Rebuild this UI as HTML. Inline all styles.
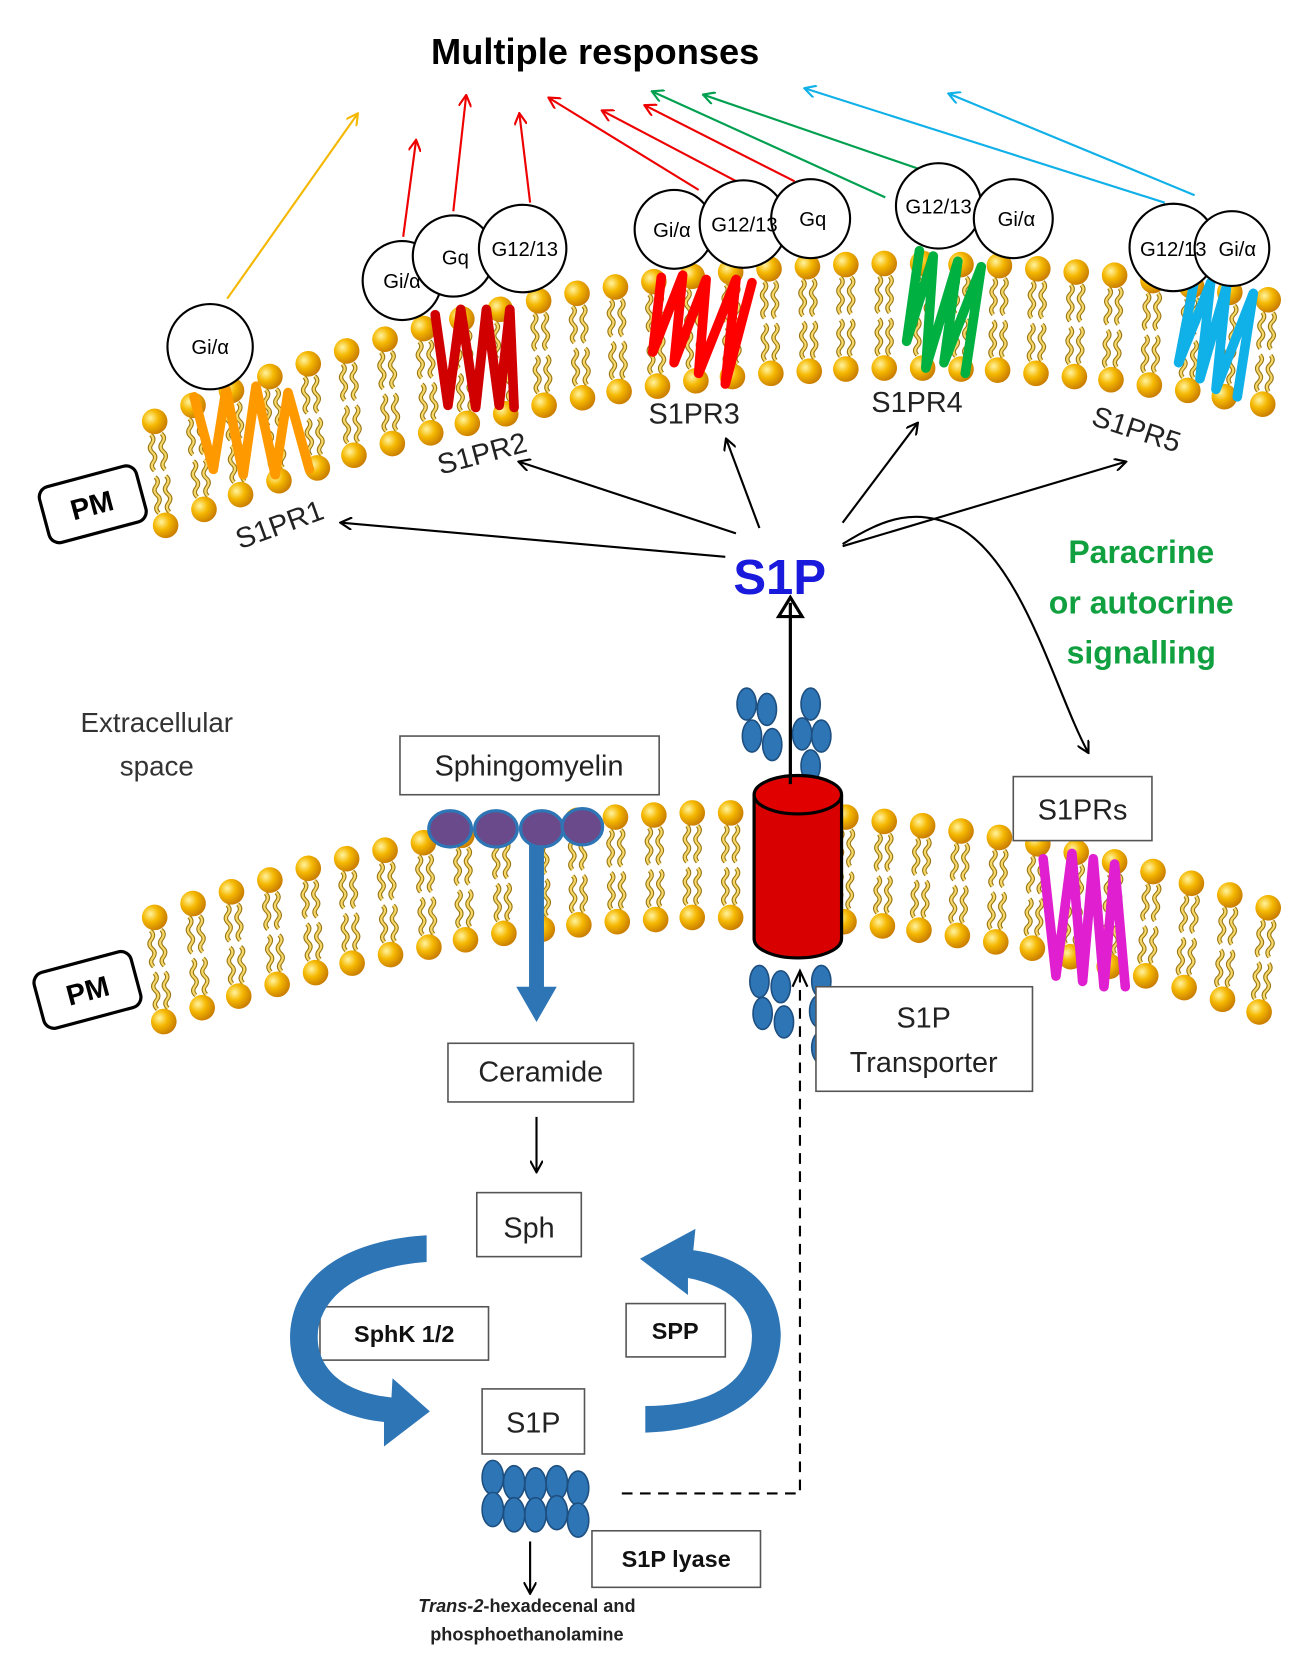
<!DOCTYPE html>
<html><head><meta charset="utf-8">
<style>
html,body{margin:0;padding:0;background:#fff;}
svg{display:block;}
text{font-family:"Liberation Sans","DejaVu Sans",sans-serif;}
</style></head>
<body>
<svg width="1297" height="1662" viewBox="0 0 1216 1558" preserveAspectRatio="none" xmlns="http://www.w3.org/2000/svg" xmlns:xlink="http://www.w3.org/1999/xlink">
<defs>
<radialGradient id="hg" cx="0.35" cy="0.35" r="0.7">
<stop offset="0" stop-color="#fff3a0"/><stop offset="0.45" stop-color="#f5b800"/><stop offset="1" stop-color="#c77a00"/>
</radialGradient>
<g id="T"><path d="M0,0 q4,4 0,8.5 q-4,4 0,8.5 q4,4 0,8.5 q-4,4 0,8.5" fill="none" stroke="#9a7410" stroke-width="4"/><path d="M0,0 q4,4 0,8.5 q-4,4 0,8.5 q4,4 0,8.5 q-4,4 0,8.5" fill="none" stroke="#f4d86a" stroke-width="2"/></g>
<g id="L">
<use xlink:href="#T" href="#T" x="-5" y="12"/><use xlink:href="#T" href="#T" x="5" y="12"/>
<use xlink:href="#T" href="#T" x="-5" y="52"/><use xlink:href="#T" href="#T" x="5" y="52"/>
<circle cx="0" cy="0" r="12" fill="url(#hg)"/><circle cx="0" cy="98" r="12" fill="url(#hg)"/>
</g>
<marker id="ab" markerWidth="12" markerHeight="12" refX="10" refY="6" orient="auto" markerUnits="userSpaceOnUse"><path d="M0,0 L11,6 L0,12" fill="none" stroke="#000" stroke-width="2"/></marker>
<marker id="ar" markerWidth="12" markerHeight="12" refX="10" refY="6" orient="auto" markerUnits="userSpaceOnUse"><path d="M0,0 L11,6 L0,12" fill="none" stroke="#e00" stroke-width="2"/></marker>
<marker id="ag" markerWidth="12" markerHeight="12" refX="10" refY="6" orient="auto" markerUnits="userSpaceOnUse"><path d="M0,0 L11,6 L0,12" fill="none" stroke="#00a050" stroke-width="2"/></marker>
<marker id="ac" markerWidth="12" markerHeight="12" refX="10" refY="6" orient="auto" markerUnits="userSpaceOnUse"><path d="M0,0 L11,6 L0,12" fill="none" stroke="#10b0e8" stroke-width="2"/></marker>
<marker id="ay" markerWidth="12" markerHeight="12" refX="10" refY="6" orient="auto" markerUnits="userSpaceOnUse"><path d="M0,0 L11,6 L0,12" fill="none" stroke="#f5b800" stroke-width="2"/></marker>
</defs>

<!-- upper membrane -->
<g>
<use href="#L" xlink:href="#L" transform="translate(145,395) rotate(-6)"/>
<use href="#L" xlink:href="#L" transform="translate(181,380) rotate(-6)"/>
<use href="#L" xlink:href="#L" transform="translate(217,366) rotate(-5)"/>
<use href="#L" xlink:href="#L" transform="translate(253,353) rotate(-5)"/>
<use href="#L" xlink:href="#L" transform="translate(289,341) rotate(-5)"/>
<use href="#L" xlink:href="#L" transform="translate(325,329) rotate(-4)"/>
<use href="#L" xlink:href="#L" transform="translate(361,318) rotate(-4)"/>
<use href="#L" xlink:href="#L" transform="translate(397,308) rotate(-4)"/>
<use href="#L" xlink:href="#L" transform="translate(433,299) rotate(-3)"/>
<use href="#L" xlink:href="#L" transform="translate(469,290) rotate(-3)"/>
<use href="#L" xlink:href="#L" transform="translate(505,282) rotate(-3)"/>
<use href="#L" xlink:href="#L" transform="translate(541,275) rotate(-3)"/>
<use href="#L" xlink:href="#L" transform="translate(577,269) rotate(-2)"/>
<use href="#L" xlink:href="#L" transform="translate(613,264) rotate(-2)"/>
<use href="#L" xlink:href="#L" transform="translate(649,259) rotate(-2)"/>
<use href="#L" xlink:href="#L" transform="translate(685,255) rotate(-1)"/>
<use href="#L" xlink:href="#L" transform="translate(721,252) rotate(-1)"/>
<use href="#L" xlink:href="#L" transform="translate(757,250) rotate(-1)"/>
<use href="#L" xlink:href="#L" transform="translate(793,248) rotate(0)"/>
<use href="#L" xlink:href="#L" transform="translate(829,247) rotate(0)"/>
<use href="#L" xlink:href="#L" transform="translate(865,247) rotate(0)"/>
<use href="#L" xlink:href="#L" transform="translate(901,248) rotate(0)"/>
<use href="#L" xlink:href="#L" transform="translate(937,249) rotate(1)"/>
<use href="#L" xlink:href="#L" transform="translate(973,252) rotate(1)"/>
<use href="#L" xlink:href="#L" transform="translate(1009,255) rotate(1)"/>
<use href="#L" xlink:href="#L" transform="translate(1045,258) rotate(2)"/>
<use href="#L" xlink:href="#L" transform="translate(1081,263) rotate(2)"/>
<use href="#L" xlink:href="#L" transform="translate(1117,268) rotate(2)"/>
<use href="#L" xlink:href="#L" transform="translate(1153,274) rotate(3)"/>
<use href="#L" xlink:href="#L" transform="translate(1189,281) rotate(3)"/>
</g>
<!-- lower membrane -->
<g>
<use href="#L" xlink:href="#L" transform="translate(145,860) rotate(-5)"/>
<use href="#L" xlink:href="#L" transform="translate(181,847) rotate(-5)"/>
<use href="#L" xlink:href="#L" transform="translate(217,836) rotate(-4)"/>
<use href="#L" xlink:href="#L" transform="translate(253,825) rotate(-4)"/>
<use href="#L" xlink:href="#L" transform="translate(289,814) rotate(-4)"/>
<use href="#L" xlink:href="#L" transform="translate(325,805) rotate(-3)"/>
<use href="#L" xlink:href="#L" transform="translate(361,797) rotate(-3)"/>
<use href="#L" xlink:href="#L" transform="translate(397,790) rotate(-3)"/>
<use href="#L" xlink:href="#L" transform="translate(433,783) rotate(-2)"/>
<use href="#L" xlink:href="#L" transform="translate(469,777) rotate(-2)"/>
<use href="#L" xlink:href="#L" transform="translate(505,773) rotate(-2)"/>
<use href="#L" xlink:href="#L" transform="translate(541,769) rotate(-1)"/>
<use href="#L" xlink:href="#L" transform="translate(577,766) rotate(-1)"/>
<use href="#L" xlink:href="#L" transform="translate(613,764) rotate(-1)"/>
<use href="#L" xlink:href="#L" transform="translate(649,762) rotate(0)"/>
<use href="#L" xlink:href="#L" transform="translate(685,762) rotate(0)"/>
<use href="#L" xlink:href="#L" transform="translate(721,763) rotate(0)"/>
<use href="#L" xlink:href="#L" transform="translate(757,764) rotate(1)"/>
<use href="#L" xlink:href="#L" transform="translate(793,766) rotate(1)"/>
<use href="#L" xlink:href="#L" transform="translate(829,770) rotate(1)"/>
<use href="#L" xlink:href="#L" transform="translate(865,774) rotate(2)"/>
<use href="#L" xlink:href="#L" transform="translate(901,779) rotate(2)"/>
<use href="#L" xlink:href="#L" transform="translate(937,785) rotate(2)"/>
<use href="#L" xlink:href="#L" transform="translate(973,791) rotate(3)"/>
<use href="#L" xlink:href="#L" transform="translate(1009,799) rotate(3)"/>
<use href="#L" xlink:href="#L" transform="translate(1045,808) rotate(3)"/>
<use href="#L" xlink:href="#L" transform="translate(1081,817) rotate(4)"/>
<use href="#L" xlink:href="#L" transform="translate(1117,828) rotate(4)"/>
<use href="#L" xlink:href="#L" transform="translate(1153,839) rotate(4)"/>
<use href="#L" xlink:href="#L" transform="translate(1189,851) rotate(5)"/>
</g>

<!-- title -->
<text x="558" y="60" font-size="34" font-weight="bold" text-anchor="middle">Multiple responses</text>

<!-- response arrows -->
<g stroke-width="2" fill="none">
<line x1="213" y1="280" x2="335" y2="107" stroke="#f5b800" marker-end="url(#ay)"/>
<line x1="378" y1="222" x2="390" y2="132" stroke="#e00" marker-end="url(#ar)"/>
<line x1="425" y1="198" x2="437" y2="90" stroke="#e00" marker-end="url(#ar)"/>
<line x1="497" y1="190" x2="487" y2="107" stroke="#e00" marker-end="url(#ar)"/>
<line x1="655" y1="178" x2="515" y2="92" stroke="#e00" marker-end="url(#ar)"/>
<line x1="700" y1="175" x2="565" y2="104" stroke="#e00" marker-end="url(#ar)"/>
<line x1="745" y1="170" x2="605" y2="99" stroke="#e00" marker-end="url(#ar)"/>
<line x1="830" y1="185" x2="612" y2="86" stroke="#00a050" marker-end="url(#ag)"/>
<line x1="910" y1="175" x2="660" y2="89" stroke="#00a050" marker-end="url(#ag)"/>
<line x1="1092" y1="190" x2="755" y2="83" stroke="#10b0e8" marker-end="url(#ac)"/>
<line x1="1120" y1="183" x2="890" y2="88" stroke="#10b0e8" marker-end="url(#ac)"/>
</g>

<!-- receptors -->
<g fill="none" stroke-width="9" stroke-linecap="round" stroke-linejoin="round">
<path d="M182,372 L200,440 L212,365 L228,445 L240,362 L258,445 L270,368 L290,440" stroke="#ff9900"/>
<path d="M408,295 L420,380 L432,290 L446,382 L456,290 L468,380 L478,290 L482,382" stroke="#d00000"/>
<path d="M620,260 L612,330 L640,258 L632,340 L662,262 L655,350 L690,262 L680,360 L705,265" stroke="#ff0000"/>
<path d="M862,235 L850,320 L875,240 L868,345 L898,245 L885,340 L920,250 L905,350" stroke="#00b040"/>
<path d="M1120,262 L1105,340 L1135,265 L1125,355 L1150,268 L1140,365 L1175,275 L1160,372" stroke="#10b0e8"/>
<path d="M978,805 L990,915 L1005,800 L1015,920 L1025,805 L1035,925 L1045,810 L1055,925" stroke="#e020d0"/>
</g>

<!-- G protein circles -->
<g fill="#fff" stroke="#000" stroke-width="2">
<circle cx="197" cy="325" r="40"/>
<circle cx="377" cy="263" r="37"/>
<circle cx="425" cy="240" r="38"/>
<circle cx="490" cy="233" r="41"/>
<circle cx="632" cy="215" r="37"/>
<circle cx="697" cy="210" r="41"/>
<circle cx="760" cy="205" r="37"/>
<circle cx="880" cy="193" r="40"/>
<circle cx="950" cy="205" r="37"/>
<circle cx="1100" cy="232" r="41"/>
<circle cx="1155" cy="233" r="35"/>
</g>
<g font-size="19" fill="#000" text-anchor="middle">
<text x="197" y="332">Gi/α</text>
<text x="377" y="270">Gi/α</text>
<text x="427" y="248">Gq</text>
<text x="492" y="240">G12/13</text>
<text x="630" y="222">Gi/α</text>
<text x="698" y="217">G12/13</text>
<text x="762" y="212">Gq</text>
<text x="880" y="200">G12/13</text>
<text x="953" y="212">Gi/α</text>
<text x="1100" y="240">G12/13</text>
<text x="1160" y="240">Gi/α</text>
</g>

<!-- receptor labels -->
<g font-size="27" fill="#222">
<text x="225" y="515" transform="rotate(-20 225 515)">S1PR1</text>
<text x="413" y="445" transform="rotate(-15 413 445)">S1PR2</text>
<text x="608" y="397">S1PR3</text>
<text x="817" y="386">S1PR4</text>
<text x="1022" y="398" transform="rotate(18 1022 398)">S1PR5</text>
</g>

<!-- PM boxes -->
<g transform="rotate(-15 86 473)"><rect x="40" y="446" width="94" height="54" rx="10" fill="#fff" stroke="#000" stroke-width="3"/><text x="86" y="483" font-size="27" font-weight="bold" text-anchor="middle">PM</text></g>
<g transform="rotate(-15 82 928)"><rect x="35" y="901" width="94" height="54" rx="10" fill="#fff" stroke="#000" stroke-width="3"/><text x="82" y="938" font-size="27" font-weight="bold" text-anchor="middle">PM</text></g>

<!-- S1P center -->
<text x="731" y="557" font-size="46" font-weight="bold" fill="#1a1adc" text-anchor="middle">S1P</text>
<g stroke="#000" stroke-width="2" fill="none" marker-end="url(#ab)">
<line x1="680" y1="522" x2="320" y2="490"/>
<line x1="690" y1="500" x2="487" y2="433"/>
<line x1="712" y1="495" x2="681" y2="412"/>
<line x1="790" y1="490" x2="860" y2="397"/>
<line x1="790" y1="512" x2="1055" y2="433"/>
<path d="M790,510 C830,485 860,475 900,495 C960,530 990,650 1020,705"/>
</g>

<text font-size="30" font-weight="bold" fill="#10a040" text-anchor="middle"><tspan x="1070" y="528">Paracrine</tspan><tspan x="1070" y="575">or autocrine</tspan><tspan x="1070" y="622">signalling</tspan></text>

<text font-size="26" fill="#333" text-anchor="middle"><tspan x="147" y="686">Extracellular</tspan><tspan x="147" y="727">space</tspan></text>

<!-- boxes -->
<g fill="#fff" stroke="#555" stroke-width="1.5">
<rect x="375" y="690" width="243" height="55"/>
<rect x="950" y="728" width="130" height="60"/>
<rect x="420" y="978" width="174" height="55"/>
<rect x="447" y="1118" width="98" height="60"/>
<rect x="300" y="1225" width="158" height="50"/>
<rect x="587" y="1222" width="93" height="50"/>
<rect x="452" y="1302" width="96" height="61"/>
<rect x="555" y="1435" width="158" height="53"/>
</g>
<g font-size="27" fill="#222" text-anchor="middle">
<text x="496" y="727">Sphingomyelin</text>
<text x="1015" y="768">S1PRs</text>
<text x="507" y="1014">Ceramide</text>
<text x="496" y="1160">Sph</text>
<text x="500" y="1343">S1P</text>
</g>
<g font-size="22" font-weight="bold" fill="#111" text-anchor="middle">
<text x="379" y="1258">SphK 1/2</text>
<text x="633" y="1255">SPP</text>
<text x="634" y="1469">S1P lyase</text>
</g>

<!-- sphingomyelin stem -->
<rect x="496" y="780" width="14" height="150" fill="#2e75b6"/>
<polygon points="484,925 522,925 503,958" fill="#2e75b6"/>
<g fill="#6a4a8a" stroke="#2e75b6" stroke-width="3">
<ellipse cx="422" cy="777" rx="20" ry="17"/>
<ellipse cx="465" cy="777" rx="20" ry="17"/>
<ellipse cx="508" cy="777" rx="20" ry="17"/>
<ellipse cx="546" cy="775" rx="19" ry="17"/>
</g>

<!-- blue ovals -->
<g fill="#2e75b6" stroke="#1d4f80" stroke-width="1.5">
<ellipse cx="700" cy="660" rx="9" ry="15"/><ellipse cx="719" cy="665" rx="9" ry="15"/><ellipse cx="705" cy="690" rx="9" ry="15"/><ellipse cx="724" cy="698" rx="9" ry="15"/>
<ellipse cx="760" cy="660" rx="9" ry="15"/><ellipse cx="770" cy="690" rx="9" ry="15"/><ellipse cx="752" cy="688" rx="9" ry="15"/><ellipse cx="760" cy="718" rx="9" ry="15"/>
<ellipse cx="712" cy="920" rx="9" ry="15"/><ellipse cx="732" cy="925" rx="9" ry="15"/><ellipse cx="715" cy="950" rx="9" ry="15"/><ellipse cx="735" cy="958" rx="9" ry="15"/>
<ellipse cx="770" cy="920" rx="9" ry="15"/><ellipse cx="768" cy="948" rx="9" ry="15"/><ellipse cx="780" cy="962" rx="9" ry="15"/><ellipse cx="770" cy="982" rx="9" ry="15"/>
<ellipse cx="462" cy="1385" rx="10" ry="16"/><ellipse cx="482" cy="1390" rx="10" ry="16"/><ellipse cx="502" cy="1392" rx="10" ry="16"/><ellipse cx="522" cy="1390" rx="10" ry="16"/><ellipse cx="542" cy="1395" rx="10" ry="16"/>
<ellipse cx="462" cy="1415" rx="10" ry="16"/><ellipse cx="482" cy="1420" rx="10" ry="16"/><ellipse cx="502" cy="1420" rx="10" ry="16"/><ellipse cx="522" cy="1418" rx="10" ry="16"/><ellipse cx="542" cy="1425" rx="10" ry="16"/>
</g>

<!-- cylinder -->
<path d="M707,745 L707,880 A41,18 0 0 0 789,880 L789,745" fill="#d80000" stroke="#000" stroke-width="3"/>
<ellipse cx="748" cy="745" rx="41" ry="18" fill="#e00000" stroke="#000" stroke-width="3"/>
<line x1="741" y1="735" x2="741" y2="565" stroke="#000" stroke-width="3"/>
<polygon points="730,578 741,560 752,578" fill="none" stroke="#000" stroke-width="3"/>

<!-- S1P transporter box -->
<rect x="765" y="925" width="203" height="98" fill="#fff" stroke="#555" stroke-width="1.5"/>
<text font-size="27" fill="#222" text-anchor="middle"><tspan x="866" y="963">S1P</tspan><tspan x="866" y="1005">Transporter</tspan></text>

<!-- dashed -->
<path d="M583,1400 L750,1400 L750,912" fill="none" stroke="#000" stroke-width="2" stroke-dasharray="10,7"/>
<path d="M743,925 L750,910 L757,925" fill="none" stroke="#000" stroke-width="2"/>

<!-- small arrows -->
<g stroke="#000" stroke-width="2" fill="none" marker-end="url(#ab)">
<line x1="503" y1="1047" x2="503" y2="1098"/>
<line x1="497" y1="1445" x2="497" y2="1493"/>
</g>
<text font-size="17" font-weight="bold" fill="#222" text-anchor="middle"><tspan x="494" y="1511"><tspan font-style="italic">Trans-2</tspan>-hexadecenal and</tspan><tspan x="494" y="1538">phosphoethanolamine</tspan></text>

<!-- blue cycle arrows -->
<path d="M400,1158 C320,1163 275,1198 272,1250 C270,1300 310,1328 360,1333 L360,1356 L403,1323 L368,1292 L367,1310 C318,1305 296,1280 298,1250 C301,1213 340,1187 400,1183 Z" fill="#2e75b6"/>
<path d="M605,1343 C690,1340 732,1300 732,1250 C730,1200 690,1177 650,1172 L652,1152 L600,1180 L645,1214 L645,1198 C682,1205 705,1225 705,1252 C705,1292 672,1318 605,1318 Z" fill="#2e75b6"/>
</svg>
</body></html>
